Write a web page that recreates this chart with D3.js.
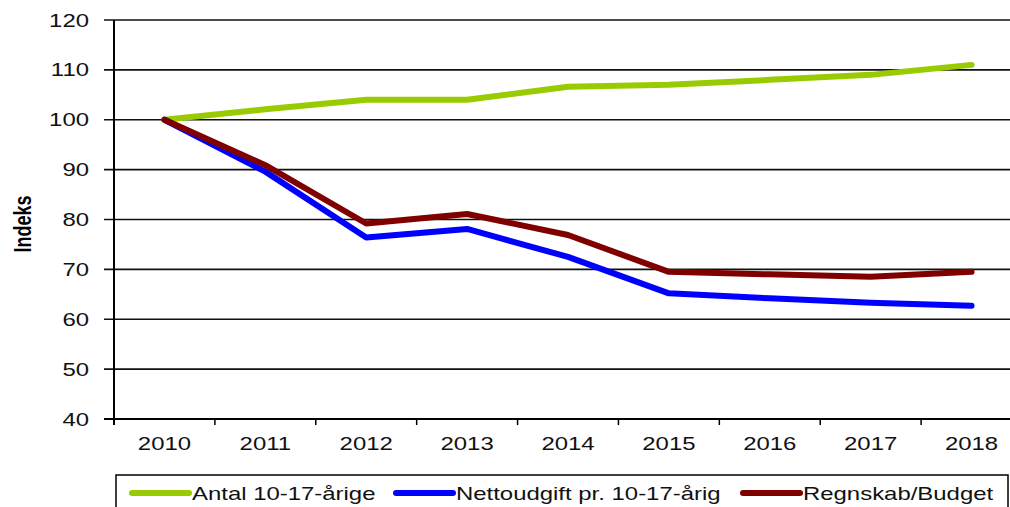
<!DOCTYPE html>
<meta charset="utf-8">
<title>Indeks 2010-2018</title>
<style>
body { margin: 0; background: white; }
svg { font-family: "Liberation Sans", Arial, sans-serif; display: block; }
</style>
<body>
<script src="https://d3js.org/d3.v7.min.js"></script>
<script>

// data
const years = ["2010", "2011", "2012", "2013", "2014", "2015", "2016", "2017", "2018"];
const antal = [100, 102.1, 104.0, 104.0, 106.6, 107.0, 108.0, 109.0, 111.0];
const netto = [100, 89.6, 76.4, 78.1, 72.5, 65.2, 64.2, 63.3, 62.7];
const regnskab = [100, 90.9, 79.2, 81.1, 76.9, 69.5, 69.0, 68.5, 69.5];
const yTicks = [40, 50, 60, 70, 80, 90, 100, 110, 120];
const seriesNames = ["Antal 10-17-årige", "Nettoudgift pr. 10-17-årig", "Regnskab/Budget"];

const colors = ["#99cc00", "#0000ff", "#800000"];
const series = [antal, netto, regnskab];

const W = 1010, H = 507;
const margin = {top: 20, left: 114};
const plotRight = 1022, plotBottom = 419;
const sx = 1.33; // text in the original looks stretched sideways

var svg = d3.select("body")
  .append("svg")
    .attr("width", W)
    .attr("height", H);

var x = d3.scaleBand()
  .domain(years)
  .range([margin.left, plotRight]);

var y = d3.scaleLinear()
  .domain([40, 120])
  .range([plotBottom, margin.top]);

// gridlines
svg.append("g")
  .selectAll("line")
  .data(yTicks)
  .enter().append("line")
    .attr("x1", margin.left - 10)
    .attr("x2", W)
    .attr("y1", d => y(d))
    .attr("y2", d => y(d))
    .attr("stroke", "#111")
    .attr("stroke-width", 1.7);

// y tick labels
svg.append("g")
  .selectAll("text")
  .data(yTicks)
  .enter().append("text")
    .attr("transform", d => "translate(89," + (y(d) + 6.5) + ") scale(" + sx + ",1)")
    .attr("text-anchor", "end")
    .style("font-size", "18px")
    .attr("fill", "#111")
    .text(d => d);

// y axis line
svg.append("line")
  .attr("x1", margin.left).attr("x2", margin.left)
  .attr("y1", margin.top).attr("y2", plotBottom + 6)
  .attr("stroke", "black")
  .attr("stroke-width", 2);

// x axis: line, ticks at band edges, labels
svg.append("line")
  .attr("x1", margin.left - 10).attr("x2", W)
  .attr("y1", plotBottom).attr("y2", plotBottom)
  .attr("stroke", "black")
  .attr("stroke-width", 2);

svg.append("g")
  .selectAll("line")
  .data(years)
  .enter().append("line")
    .attr("x1", d => x(d)).attr("x2", d => x(d))
    .attr("y1", plotBottom).attr("y2", plotBottom + 6)
    .attr("stroke", "black")
    .attr("stroke-width", 1.5);

svg.append("g")
  .selectAll("text")
  .data(years)
  .enter().append("text")
    .attr("transform", d => "translate(" + (x(d) + x.bandwidth() / 2) + ",450) scale(" + sx + ",1)")
    .attr("text-anchor", "middle")
    .style("font-size", "18px")
    .attr("fill", "#111")
    .text(d => d);

// y title
svg.append("text")
  .attr("transform", "translate(31,224) rotate(-90) scale(1," + sx + ")")
  .attr("text-anchor", "middle")
  .style("font-size", "18px")
  .style("font-weight", "bold")
  .text("Indeks");

// lines
var line = d3.line()
  .x((d, i) => x(years[i]) + x.bandwidth() / 2)
  .y(d => y(d));

series.forEach(function(s, k) {
  svg.append("path")
    .datum(s)
    .attr("fill", "none")
    .attr("stroke", colors[k])
    .attr("stroke-width", 6)
    .attr("stroke-linecap", "round")
    .attr("stroke-linejoin", "round")
    .attr("d", line);
});

// legend
svg.append("rect")
  .attr("x", 116).attr("y", 475)
  .attr("width", 892).attr("height", 45)
  .attr("fill", "white")
  .attr("stroke", "black")
  .attr("stroke-width", 1.5);

const legendX = [132, 396, 743];
seriesNames.forEach(function(name, k) {
  var g = svg.append("g").attr("transform", "translate(" + legendX[k] + ",493)");
  g.append("line")
    .attr("x1", 0).attr("x2", 57)
    .attr("stroke", colors[k])
    .attr("stroke-width", 6)
    .attr("stroke-linecap", "round");
  g.append("text")
    .attr("transform", "translate(60,7) scale(" + sx + ",1)")
    .style("font-size", "18px")
    .attr("fill", "#111")
    .text(name);
});

</script>
</body>
